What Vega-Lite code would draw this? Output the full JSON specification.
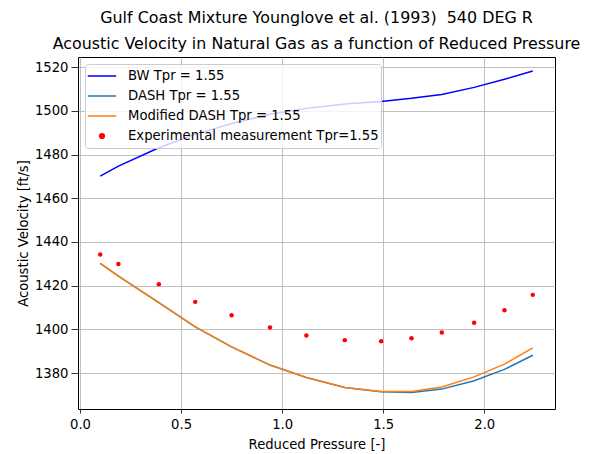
{
  "$schema": "https://vega.github.io/schema/vega-lite/v6.json",
  "width": 477,
  "height": 352,
  "autosize": "none",
  "padding": {"left": 78, "top": 57, "right": 41, "bottom": 45},
  "background": "white",
  "title": {
    "text": ["Gulf Coast Mixture Younglove et al. (1993) \u00a0540 DEG R", "Acoustic Velocity in Natural Gas as a function of Reduced Pressure"],
    "anchor": "middle",
    "frame": "group",
    "font": "DejaVu Sans",
    "fontSize": 15.9,
    "fontWeight": "normal",
    "color": "black",
    "lineHeight": 26,
    "baseline": "alphabetic",
    "offset": -8
  },
  "config": {
    "font": "DejaVu Sans",
    "view": {"stroke": "black", "strokeWidth": 1},
    "axis": {
      "domain": false,
      "grid": true,
      "gridColor": "#b0b0b0",
      "gridWidth": 0.8,
      "tickColor": "black",
      "tickWidth": 0.8,
      "labelColor": "black",
      "labelFont": "DejaVu Sans",
      "labelFontSize": 13.2,
      "titleFont": "DejaVu Sans",
      "titleFontSize": 13.2,
      "titleFontWeight": "normal",
      "titleColor": "black"
    },
    "legend": {
      "labelFont": "DejaVu Sans",
      "labelFontSize": 13.2,
      "labelColor": "black"
    }
  },
  "data": {
    "values": [
      {"x": 0.1, "y": 1470.1, "series": "BW Tpr = 1.55"},
      {"x": 0.19, "y": 1474.7, "series": "BW Tpr = 1.55"},
      {"x": 0.39, "y": 1483.1, "series": "BW Tpr = 1.55"},
      {"x": 0.57, "y": 1489.2, "series": "BW Tpr = 1.55"},
      {"x": 0.75, "y": 1494.2, "series": "BW Tpr = 1.55"},
      {"x": 0.94, "y": 1498.4, "series": "BW Tpr = 1.55"},
      {"x": 1.12, "y": 1501.1, "series": "BW Tpr = 1.55"},
      {"x": 1.31, "y": 1503.1, "series": "BW Tpr = 1.55"},
      {"x": 1.49, "y": 1504.3, "series": "BW Tpr = 1.55"},
      {"x": 1.64, "y": 1505.7, "series": "BW Tpr = 1.55"},
      {"x": 1.79, "y": 1507.5, "series": "BW Tpr = 1.55"},
      {"x": 1.95, "y": 1510.7, "series": "BW Tpr = 1.55"},
      {"x": 2.1, "y": 1514.4, "series": "BW Tpr = 1.55"},
      {"x": 2.24, "y": 1518.2, "series": "BW Tpr = 1.55"},
      {"x": 0.1, "y": 1430.2, "series": "DASH Tpr = 1.55"},
      {"x": 0.19, "y": 1424.4, "series": "DASH Tpr = 1.55"},
      {"x": 0.39, "y": 1412.2, "series": "DASH Tpr = 1.55"},
      {"x": 0.57, "y": 1401.2, "series": "DASH Tpr = 1.55"},
      {"x": 0.75, "y": 1392.0, "series": "DASH Tpr = 1.55"},
      {"x": 0.94, "y": 1383.7, "series": "DASH Tpr = 1.55"},
      {"x": 1.12, "y": 1378.0, "series": "DASH Tpr = 1.55"},
      {"x": 1.31, "y": 1373.4, "series": "DASH Tpr = 1.55"},
      {"x": 1.49, "y": 1371.5, "series": "DASH Tpr = 1.55"},
      {"x": 1.64, "y": 1371.2, "series": "DASH Tpr = 1.55"},
      {"x": 1.79, "y": 1372.7, "series": "DASH Tpr = 1.55"},
      {"x": 1.95, "y": 1376.5, "series": "DASH Tpr = 1.55"},
      {"x": 2.1, "y": 1381.7, "series": "DASH Tpr = 1.55"},
      {"x": 2.24, "y": 1388.2, "series": "DASH Tpr = 1.55"},
      {"x": 0.1, "y": 1430.2, "series": "Modified DASH Tpr = 1.55"},
      {"x": 0.19, "y": 1424.4, "series": "Modified DASH Tpr = 1.55"},
      {"x": 0.39, "y": 1412.2, "series": "Modified DASH Tpr = 1.55"},
      {"x": 0.57, "y": 1401.2, "series": "Modified DASH Tpr = 1.55"},
      {"x": 0.75, "y": 1392.0, "series": "Modified DASH Tpr = 1.55"},
      {"x": 0.94, "y": 1383.7, "series": "Modified DASH Tpr = 1.55"},
      {"x": 1.12, "y": 1378.0, "series": "Modified DASH Tpr = 1.55"},
      {"x": 1.31, "y": 1373.4, "series": "Modified DASH Tpr = 1.55"},
      {"x": 1.49, "y": 1371.6, "series": "Modified DASH Tpr = 1.55"},
      {"x": 1.64, "y": 1371.6, "series": "Modified DASH Tpr = 1.55"},
      {"x": 1.79, "y": 1373.7, "series": "Modified DASH Tpr = 1.55"},
      {"x": 1.95, "y": 1378.3, "series": "Modified DASH Tpr = 1.55"},
      {"x": 2.1, "y": 1384.1, "series": "Modified DASH Tpr = 1.55"},
      {"x": 2.24, "y": 1391.6, "series": "Modified DASH Tpr = 1.55"},
      {"x": 0.1, "y": 1434.3, "series": "Experimental measurement Tpr=1.55"},
      {"x": 0.19, "y": 1429.9, "series": "Experimental measurement Tpr=1.55"},
      {"x": 0.39, "y": 1420.7, "series": "Experimental measurement Tpr=1.55"},
      {"x": 0.57, "y": 1412.6, "series": "Experimental measurement Tpr=1.55"},
      {"x": 0.75, "y": 1406.5, "series": "Experimental measurement Tpr=1.55"},
      {"x": 0.94, "y": 1400.9, "series": "Experimental measurement Tpr=1.55"},
      {"x": 1.12, "y": 1397.2, "series": "Experimental measurement Tpr=1.55"},
      {"x": 1.31, "y": 1395.1, "series": "Experimental measurement Tpr=1.55"},
      {"x": 1.49, "y": 1394.6, "series": "Experimental measurement Tpr=1.55"},
      {"x": 1.64, "y": 1396.0, "series": "Experimental measurement Tpr=1.55"},
      {"x": 1.79, "y": 1398.6, "series": "Experimental measurement Tpr=1.55"},
      {"x": 1.95, "y": 1403.0, "series": "Experimental measurement Tpr=1.55"},
      {"x": 2.1, "y": 1408.8, "series": "Experimental measurement Tpr=1.55"},
      {"x": 2.24, "y": 1415.8, "series": "Experimental measurement Tpr=1.55"}
    ]
  },
  "encoding": {
    "x": {
      "field": "x",
      "type": "quantitative",
      "scale": {"domain": [-0.01, 2.35], "nice": false, "zero": false},
      "axis": {"values": [0, 0.5, 1, 1.5, 2], "format": ".1f", "title": "Reduced Pressure [-]", "titlePadding": 8, "tickSize": 4, "labelPadding": 5}
    },
    "y": {
      "field": "y",
      "type": "quantitative",
      "scale": {"domain": [1363.6, 1524.6], "nice": false, "zero": false},
      "axis": {"values": [1380, 1400, 1420, 1440, 1460, 1480, 1500, 1520], "format": "d", "title": "Acoustic Velocity [ft/s]", "titlePadding": 4, "tickSize": 7, "labelPadding": 3}
    }
  },
  "layer": [
    {
      "transform": [{"filter": "datum.series !== 'Experimental measurement Tpr=1.55'"}],
      "mark": {"type": "line", "strokeWidth": 1.5},
      "encoding": {
        "color": {
          "field": "series",
          "type": "nominal",
          "scale": {
            "domain": ["BW Tpr = 1.55", "DASH Tpr = 1.55", "Modified DASH Tpr = 1.55", "Experimental measurement Tpr=1.55"],
            "range": ["#0000ff", "#1f77b4", "#ff7f0e", "#ff0000"]
          },
          "legend": {
            "title": null,
            "orient": "top-left",
            "offset": 7,
            "padding": 2,
            "fillColor": "rgba(255,255,255,0.8)",
            "strokeColor": "#cccccc",
            "cornerRadius": 3,
            "symbolSize": 256,
            "symbolOffset": 0,
            "symbolStrokeWidth": 1.5,
            "rowPadding": 0,
            "clipHeight": 20,
            "labelOffset": 11,
            "labelLimit": 0,
            "values": ["BW Tpr = 1.55", "DASH Tpr = 1.55", "Modified DASH Tpr = 1.55", "Experimental measurement Tpr=1.55"],
            "encode": {
              "symbols": {
                "update": {
                  "shape": {"signal": "datum.value === 'Experimental measurement Tpr=1.55' ? 'circle' : 'stroke'"},
                  "size": {"signal": "datum.value === 'Experimental measurement Tpr=1.55' ? 22 : 810"},
                  "fill": {"signal": "datum.value === 'Experimental measurement Tpr=1.55' ? '#ff0000' : 'transparent'"},
                  "stroke": {"signal": "datum.value === 'Experimental measurement Tpr=1.55' ? 'transparent' : scale('color', datum.value)"},
                  "strokeWidth": {"value": 1.5},
                  "opacity": {"value": 1}
                }
              }
            }
          }
        },
        "detail": {"field": "series"}
      }
    },
    {
      "transform": [{"filter": "datum.series === 'Experimental measurement Tpr=1.55'"}],
      "mark": {"type": "point", "filled": true, "size": 20, "opacity": 1},
      "encoding": {
        "color": {"field": "series", "type": "nominal"}
      }
    }
  ]
}
